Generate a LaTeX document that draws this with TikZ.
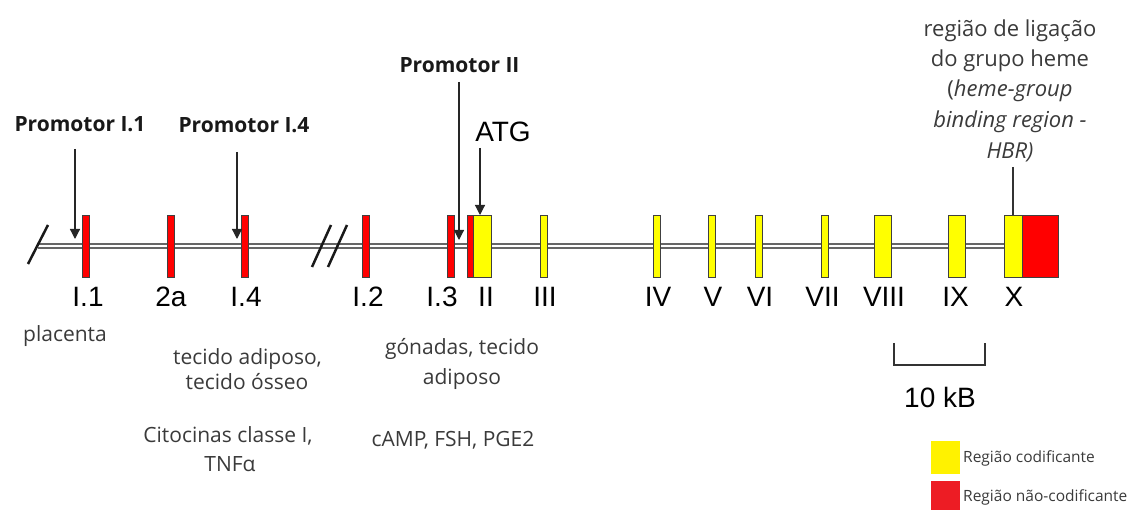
\documentclass[tikz,border=0pt]{standalone}
\usepackage{fontspec}
\setmainfont{Open Sans}
\newfontfamily\arialf{Liberation Sans}
\usetikzlibrary{arrows.meta}
\definecolor{exred}{HTML}{FF0000}
\definecolor{exyel}{HTML}{FFFF00}
\definecolor{lgred}{HTML}{ED1C24}
\definecolor{lgyel}{HTML}{FFF200}
\definecolor{txtgray}{HTML}{3A3A3A}
\begin{document}
\begin{tikzpicture}[x=1pt,y=-1pt,
  exon/.style={draw=black!75, line width=0.9pt, inner sep=0pt, minimum height=62pt, minimum width=7pt},
  nc/.style={exon, fill=exred},
  cd/.style={exon, fill=exyel},
  wide/.style={minimum width=17.5pt},
  dna/.style={draw=black!60, line width=1.8pt, double=white, double distance=1.5pt},
  lab/.style={font=\arialf\fontsize{28}{32}\selectfont, anchor=base, inner sep=0pt},
  prom/.style={font=\bfseries\fontsize{21}{25}\selectfont, anchor=base, inner sep=0pt, text=black!90},
  txt/.style={font=\fontsize{21}{25}\selectfont, anchor=base, inner sep=0pt, text=txtgray},
  hbr/.style={font=\fontsize{22}{26}\selectfont, anchor=base, inner sep=0pt, text=txtgray},
  lgd/.style={font=\fontsize{15.5}{18}\selectfont, anchor=west, inner sep=0pt, text=txtgray},
  arr/.style={-{Triangle[width=10pt,length=10pt]}, line width=1.2pt, draw=black!85},
  slash/.style={line width=2.5pt, draw=black!90}
]
\useasboundingbox (0,0) rectangle (1136,510);

% DNA line
\coordinate (start) at (38,246);
\coordinate (stop) at (1010,246);
\draw[dna] (start) -- (stop);

% slashes
\draw[slash] (28,264) -- (48,225);
\draw[slash] (312,267) -- (331,225);
\draw[slash] (328,267) -- (347,225);

% exons
\node[nc] (e11) at (85.5,246) {};
\node[nc] (e2a) at (170.5,246) {};
\node[nc] (e14) at (245,246) {};
\node[nc] (e12) at (365.5,246) {};
\node[nc] (e13) at (450.5,246) {};
\node[nc] (e2r) at (470.5,246) {};
\node[cd,wide] (e2y) at (482.5,246) {};
\node[cd] (e3) at (544,246) {};
\node[cd] (e4) at (656.5,246) {};
\node[cd] (e5) at (712,246) {};
\node[cd] (e6) at (758.5,246) {};
\node[cd] (e7) at (824.5,246) {};
\node[cd,wide] (e8) at (883,246) {};
\node[cd,wide] (e9) at (957,246) {};
\node[cd,wide] (e10y) at (1013.5,246) {};
\node[nc,minimum width=36pt] (e10r) at (1040.5,246) {};

% exon labels
\node[lab] (l11) at (88,307) {I.1};
\node[lab] (l2a) at (171,307) {2a};
\node[lab] (l14) at (246,307) {I.4};
\node[lab] (l12) at (368,307) {I.2};
\node[lab] (l13) at (442,307) {I.3};
\node[lab] (l2) at (486,307) {II};
\node[lab] (l3) at (545,307) {III};
\node[lab] (l4) at (658,307) {IV};
\node[lab] (l5) at (713,307) {V};
\node[lab] (l6) at (760,307) {VI};
\node[lab] (l7) at (822.5,307) {VII};
\node[lab] (l8) at (884,307) {VIII};
\node[lab] (l9) at (955.5,307) {IX};
\node[lab] (l10) at (1014,307) {X};

% promoters
\node[prom] (p11) at (80,132) {Promotor I.1};
\node[prom] (p14) at (244,133) {Promotor I.4};
\node[prom] (p2) at (459.5,73) {Promotor II};
\node[lab] (atg) at (503,142) {ATG};

\coordinate (s11) at (75,149);  \coordinate (t11) at (75,239);
\coordinate (s14) at (237,152); \coordinate (t14) at (237,239);
\coordinate (s2) at (459,82);   \coordinate (t2) at (459,240);
\coordinate (satg) at (480,148); \coordinate (tatg) at (480,215);
\draw[arr] (s11) -- (t11);
\draw[arr] (s14) -- (t14);
\draw[arr] (s2) -- (t2);
\draw[arr] (satg) -- (tatg);

% HBR
\node[hbr] (h1) at (1010,37) {região de ligação};
\node[hbr] (h2) at (1010,67) {do grupo heme};
\node[hbr] (h3) at (1010,97) {(\textit{heme-group}};
\node[hbr] (h4) at (1010,128) {\textit{binding region -}};
\node[hbr] (h5) at (1010,159) {\textit{HBR)}};
\coordinate (hs) at (1013,167);
\draw[line width=1.1pt, draw=black!80] (hs) -- (hs |- e10y.north);

% tissue texts
\node[txt] (t1) at (65,342) {placenta};
\node[txt] (t2a) at (247.5,365) {tecido adiposo,};
\node[txt] (t2b) at (247,390) {tecido ósseo};
\node[txt] (t3a) at (462,355) {gónadas, tecido};
\node[txt] (t3b) at (462,385) {adiposo};
\node[txt] (r1a) at (228,443) {Citocinas classe I,};
\node[txt] (r1b) at (230,472) {TNFα};
\node[txt] (r2) at (453,447) {cAMP, FSH, PGE2};

% scale bar
\draw[line width=1.3pt, draw=black!80] (894,343) -- (894,365) -- (985,365) -- (985,343);
\node[lab] (kb) at (940,408) {10 kB};

% legend
\node[fill=lgyel, minimum width=29pt, minimum height=33pt, inner sep=0pt] (ly) at (945.5,457.5) {};
\node[fill=lgred, minimum width=29pt, minimum height=29pt, inner sep=0pt] (lr) at (945.5,495.5) {};
\node[lgd] (lyt) at (963,458) {Região codificante};
\node[lgd] (lrt) at (963,497) {Região não-codificante};
\end{tikzpicture}
\end{document}
